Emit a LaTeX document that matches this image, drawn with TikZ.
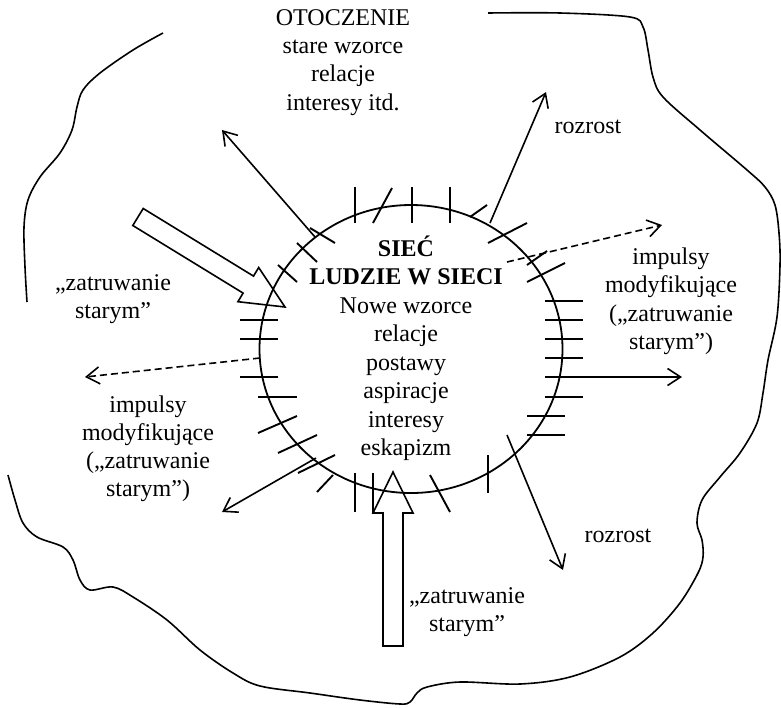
\documentclass[tikz,border=0pt]{standalone}
\usepackage{fontspec}
\setmainfont{Liberation Serif}
\usetikzlibrary{arrows.meta,shapes.geometric}
\begin{document}
\begin{tikzpicture}[x=1pt,y=-1pt,
  line width=1.6pt,
  txt/.style={font=\fontsize{24}{28.5}\selectfont, inner sep=0pt, anchor=base},
  boldtxt/.style={txt, font=\fontsize{24}{28.5}\selectfont\bfseries},
  tickmark/.style={line width=1.9pt},
  thinarrow/.style={line width=1.6pt, -{Straight Barb[length=13pt,width=17pt]}},
  dasharrow/.style={thinarrow, dash pattern=on 7pt off 4pt},
  blockarrow/.style={line width=1.6pt, line join=miter},
  border/.style={line width=1.6pt}
]
\useasboundingbox (0,0) rectangle (781,707);

% outer environment boundary
\draw[border] plot[smooth, tension=0.55] coordinates {
  (163,33) (133,50) (100,73) (83,90) (77,107) (72,130) (60,153) (40,177)
  (28,200) (24,227) (25,267) (27,302)};
\draw[border] plot[smooth, tension=0.55] coordinates {
  (8,475) (15,500) (23,523) (37,537) (63,547) (73,560) (80,580) (90,590)
  (113,587) (133,597) (167,620) (200,650) (233,673) (260,686) (310,693)
  (360,700) (400,704) (410,702) (417,693) (427,687) (460,682) (520,684)
  (570,677) (620,657) (653,633) (680,603) (698,573) (703,557) (702,540)
  (697,523) (702,500) (720,477) (740,453) (757,423) (763,393) (768,360)
  (777,317) (780,265) (779,233) (775,205) (765,187) (747,170) (700,130)
  (663,97) (653,77) (648,50) (643,27) (630,17) (560,13) (488,13)};

% the network circle
\node[draw, ellipse, line width=1.8pt, minimum width=303pt, minimum height=288pt, inner sep=0pt] (net) at (411,349) {};

% ticks crossing the circle
\foreach \a/\b/\c/\d in {
  355/187/355/223, 373/223/392/188, 412/187/412/223, 450/187/450/223,
  470/217/487/205, 488/243/527/223, 527/265/547/251, 527/282/565/263,
  545/301/583/301, 545/320/583/320, 545/339/583/339, 545/358/583/358,
  545/377/583/377, 545/397/583/397, 527/416/565/416, 527/435/565/435,
  488/455/488/493, 430/475/450/512, 373/473/373/513, 355/473/355/512,
  317/492/333/475, 298/473/335/455, 278/453/317/435, 258/433/297/416,
  258/397/297/397, 240/377/278/377, 240/339/278/339, 240/320/278/320,
  278/265/297/282, 297/243/317/262, 310/228/335/243}
  \draw[tickmark] (\a,\b) -- (\c,\d);

% arrow end points
\coordinate (s1) at (315,237);  \coordinate (e1) at (222,130);
\coordinate (s2) at (490,223);  \coordinate (e2) at (546,92);
\coordinate (s3) at (507,262);  \coordinate (e3) at (662,225);
\coordinate (s4) at (545,377);  \coordinate (e4) at (682,377);
\coordinate (s5) at (507,435);  \coordinate (e5) at (563,570);
\coordinate (s6) at (316,458);  \coordinate (e6) at (222,512);
\coordinate (s7) at (260,358);  \coordinate (e7) at (85,377);

\draw[thinarrow] (s1) -- (e1);
\draw[thinarrow] (s2) -- (e2);
\draw[dasharrow] (s3) -- (e3);
\draw[thinarrow] (s4) -- (e4);
\draw[thinarrow] (s5) -- (e5);
\draw[thinarrow] (s6) -- (e6);
\draw[dasharrow] (s7) -- (e7);

% block arrows ("zatruwanie starym")
\draw[blockarrow] (143.2,208.5) -- (253.5,276.1) -- (258.7,267.5) -- (285,307)
  -- (237.9,301.7) -- (243.1,293.1) -- (132.8,225.5) -- cycle;
\draw[blockarrow] (383,646) -- (383,513) -- (373,513) -- (393,472)
  -- (413,513) -- (403,513) -- (403,646) -- cycle;

% texts: environment
\node[txt] (ot1) at (343,25) {OTOCZENIE};
\node[txt] (ot2) at (343,53) {stare wzorce};
\node[txt] (ot3) at (343,81.5) {relacje};
\node[txt] (ot4) at (343,110) {interesy itd.};

% texts: network
\node[boldtxt] (n1) at (406,256) {SIEĆ};
\node[boldtxt] (n2) at (406,284.5) {LUDZIE W SIECI};
\node[txt] (n3) at (406,313) {Nowe wzorce};
\node[txt] (n4) at (406,341.5) {relacje};
\node[txt] (n5) at (406,370) {postawy};
\node[txt] (n6) at (406,398.5) {aspiracje};
\node[txt] (n7) at (406,427) {interesy};
\node[txt] (n8) at (406,455.5) {eskapizm};

% side labels
\node[txt] (z1a) at (113,290) {„zatruwanie};
\node[txt] (z1b) at (113,318) {starym”};

\node[txt] (l1) at (148,412) {impulsy};
\node[txt] (l2) at (148,440) {modyfikujące};
\node[txt] (l3) at (148,468) {(„zatruwanie};
\node[txt] (l4) at (148,496) {starym”)};

\node[txt] (r1) at (671,264) {impulsy};
\node[txt] (r2) at (671,292.5) {modyfikujące};
\node[txt] (r3) at (671,321) {(„zatruwanie};
\node[txt] (r4) at (671,349.5) {starym”)};

\node[txt] (g1) at (588,133) {rozrost};
\node[txt] (g2) at (618,542) {rozrost};

\node[txt] (z2a) at (467,603) {„zatruwanie};
\node[txt] (z2b) at (467,631) {starym”};
\end{tikzpicture}
\end{document}
